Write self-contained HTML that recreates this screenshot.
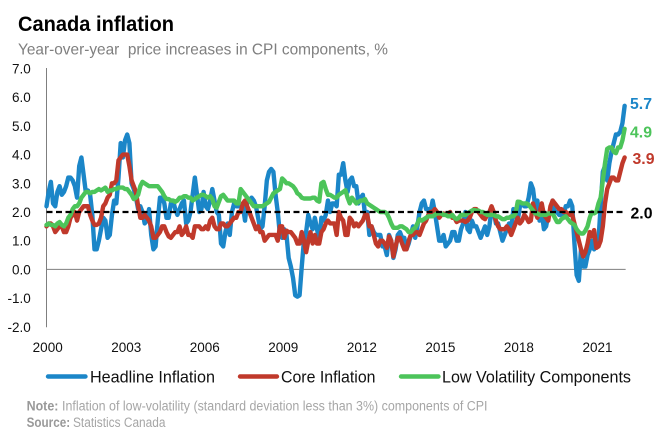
<!DOCTYPE html>
<html lang="en">
<head>
<meta charset="utf-8">
<title>Canada inflation</title>
<style>
  html,body{margin:0;padding:0;background:#fff;}
  body{width:662px;height:439px;overflow:hidden;}
  svg{display:block;font-family:"Liberation Sans",sans-serif;}
</style>
</head>
<body>
<svg id="chart" xmlns="http://www.w3.org/2000/svg" width="662" height="439" viewBox="0 0 662 439">
  <rect x="0" y="0" width="662" height="439" fill="#ffffff"/>
  <text x="18" y="31" font-size="21.5" font-weight="bold" fill="#000" textLength="156" lengthAdjust="spacingAndGlyphs">Canada  inflation</text>
  <text x="18" y="54.5" font-size="16" fill="#7f7f7f" textLength="370" lengthAdjust="spacingAndGlyphs" xml:space="preserve">Year-over-year  price increases in CPI components, %</text>
  <g id="plot"></g>
  <g>
    <line x1="48" y1="376.5" x2="85.5" y2="376.5" stroke="#1b86c8" stroke-width="4.4" stroke-linecap="round"/>
    <text x="90" y="382.5" font-size="16.5" fill="#111" textLength="125" lengthAdjust="spacingAndGlyphs">Headline Inflation</text>
    <line x1="240" y1="376.5" x2="277" y2="376.5" stroke="#c0392b" stroke-width="4.4" stroke-linecap="round"/>
    <text x="281" y="382.5" font-size="16.5" fill="#111" textLength="94.5" lengthAdjust="spacingAndGlyphs">Core Inflation</text>
    <line x1="401" y1="376.5" x2="438.5" y2="376.5" stroke="#4cc45a" stroke-width="4.4" stroke-linecap="round"/>
    <text x="442" y="382.5" font-size="16.5" fill="#111" textLength="189" lengthAdjust="spacingAndGlyphs">Low Volatility Components</text>
  </g>
  <g>
    <text x="26.6" y="410.5" font-size="13.5" font-weight="bold" fill="#999" textLength="31.8" lengthAdjust="spacingAndGlyphs">Note:</text>
    <text x="62" y="410.5" font-size="13.5" fill="#a6a6a6" textLength="425.5" lengthAdjust="spacingAndGlyphs">Inflation of low-volatility (standard deviation less than 3%) components of CPI</text>
    <text x="26.6" y="427" font-size="13.5" font-weight="bold" fill="#999" textLength="43.5" lengthAdjust="spacingAndGlyphs">Source:</text>
    <text x="73" y="427" font-size="13.5" fill="#a6a6a6" textLength="92.5" lengthAdjust="spacingAndGlyphs">Statistics Canada</text>
  </g>
</svg>
<script>
// Monthly values, January 2000 to February 2022
const startYear = 2000;
const headline = [
  2.2,2.7,3.05,2.3,2.2,2.7,2.9,2.6,2.7,2.9,3.2,3.2,
  3.1,2.9,2.5,3.6,3.9,3.3,2.7,2.75,2.6,1.9,0.7,0.7,
  1.0,1.4,1.8,1.7,1.1,1.2,1.9,2.4,2.3,3.2,4.4,3.9,
  4.5,4.7,4.4,3.0,2.8,2.5,2.1,2.2,2.0,1.6,1.7,2.1,
  1.2,0.7,0.8,1.7,2.5,2.5,2.3,1.8,1.8,2.3,2.4,2.1,
  1.9,2.1,2.3,2.4,1.6,1.7,2.0,2.6,3.2,2.6,2.0,2.1,
  2.7,2.2,2.1,2.4,2.8,2.4,2.0,1.9,0.9,0.8,1.3,1.6,
  1.2,2.0,2.3,2.2,2.2,2.2,2.2,1.7,2.4,2.4,2.5,2.4,
  2.2,1.8,1.4,1.5,2.2,3.1,3.4,3.5,3.4,2.6,2.0,1.2,
  1.1,1.4,1.2,0.4,0.1,-0.3,-0.9,-0.95,-0.9,0.1,1.0,1.3,
  1.9,1.6,1.4,1.8,1.4,1.0,1.8,1.7,1.9,2.4,2.0,2.3,
  2.3,2.2,3.3,3.3,3.7,3.1,2.7,3.1,3.2,2.9,2.9,2.3,
  2.5,2.6,1.9,2.0,1.2,1.5,1.3,1.2,1.2,1.2,0.8,0.8,
  0.5,1.2,1.0,0.4,0.7,1.2,1.3,1.1,1.1,0.7,0.9,1.2,
  1.5,1.1,1.5,2.0,2.3,2.4,2.1,2.1,2.0,2.4,2.0,1.5,
  1.0,1.0,1.2,0.8,0.9,1.0,1.3,1.3,1.0,1.0,1.4,1.6,
  2.0,1.4,1.3,1.7,1.5,1.5,1.3,1.1,1.3,1.5,1.2,1.5,
  2.1,2.0,1.6,1.6,1.3,1.0,1.2,1.4,1.6,1.4,2.1,1.9,
  1.7,2.2,2.3,2.2,2.2,2.5,3.0,2.8,2.2,2.4,1.7,2.0,
  1.4,1.5,1.9,2.0,2.4,2.0,2.0,1.9,1.9,1.9,2.2,2.2,
  2.4,2.2,0.9,-0.2,-0.4,0.7,0.1,0.1,0.5,0.7,1.0,0.7,
  0.9,1.0,2.2,3.4,3.6,3.1,3.7,4.1,4.4,4.7,4.7,4.8,
  5.1,5.7
];
const core = [
  1.5,1.6,1.6,1.5,1.3,1.4,1.5,1.5,1.3,1.3,1.5,1.8,
  1.9,2.0,1.7,2.0,2.1,2.2,2.2,2.2,1.9,1.7,1.55,1.55,
  1.6,1.8,2.2,2.3,2.5,2.6,3.0,3.0,3.1,3.8,3.9,4.0,
  4.0,4.0,3.6,3.1,2.9,2.7,2.2,1.8,1.8,1.9,1.8,1.7,
  1.5,1.1,1.1,1.2,1.3,1.5,1.5,1.3,1.15,1.1,1.2,1.3,
  1.3,1.5,1.2,1.3,1.5,1.2,1.2,1.1,1.5,1.5,1.5,1.4,
  1.4,1.5,1.4,1.7,1.8,1.5,1.4,1.4,1.6,1.6,1.5,1.5,
  1.6,1.7,1.8,1.8,2.0,2.0,2.3,2.4,2.2,2.0,1.8,1.6,
  1.4,1.5,1.3,1.3,1.0,1.1,1.2,1.2,1.2,1.2,1.0,1.5,
  1.5,1.1,1.35,1.3,1.3,1.2,1.1,0.9,0.9,1.3,1.0,0.6,
  1.0,1.3,0.9,1.2,0.9,0.9,1.3,1.4,1.6,1.7,1.6,1.6,
  1.6,1.2,2.0,1.8,1.7,1.2,1.2,1.8,1.7,1.5,1.6,1.5,
  1.6,1.7,1.9,1.9,1.5,1.5,1.2,0.9,0.8,1.0,1.0,0.9,
  0.75,1.15,1.0,0.45,0.8,1.1,1.1,0.9,0.7,0.7,1.0,1.2,
  1.2,1.3,1.3,1.2,1.4,1.6,1.7,1.9,2.0,2.0,2.1,2.0,
  1.8,1.9,1.95,1.9,1.9,2.0,1.8,1.8,1.65,1.7,1.7,1.7,
  1.65,1.7,1.8,2.0,2.1,2.1,2.0,1.9,1.8,1.75,1.9,2.0,
  2.2,2.0,1.7,1.5,1.4,1.4,1.4,1.5,1.4,1.2,1.4,1.6,
  1.8,1.6,1.7,1.9,1.8,1.65,1.7,2.3,2.0,1.8,2.0,2.3,
  1.9,1.8,1.7,2.2,2.4,2.3,2.2,2.1,2.1,2.0,2.0,1.95,
  1.9,1.9,1.6,1.3,1.0,0.7,0.45,0.6,0.9,1.3,1.15,1.37,
  0.75,0.8,1.0,1.5,2.3,2.8,3.0,3.2,3.2,3.1,3.1,3.4,
  3.7,3.9
];
const lowVolatility = [
  1.55,1.6,1.55,1.55,1.5,1.6,1.65,1.55,1.5,1.6,1.8,1.9,
  2.1,2.2,2.2,2.3,2.5,2.6,2.7,2.7,2.65,2.7,2.7,2.75,
  2.8,2.75,2.8,2.85,2.7,2.75,2.75,2.8,2.8,2.85,2.85,2.85,
  2.8,2.8,2.7,2.6,2.45,2.5,2.6,2.9,3.05,3.0,2.95,2.9,
  2.9,2.9,2.9,2.9,2.8,2.7,2.55,2.45,2.45,2.4,2.4,2.35,
  2.4,2.5,2.5,2.55,2.55,2.5,2.5,2.4,2.45,2.5,2.55,2.6,
  2.6,2.55,2.5,2.55,2.45,2.2,2.15,2.35,2.55,2.6,2.5,2.4,
  2.4,2.4,2.4,2.3,2.3,2.8,2.7,2.6,2.5,2.4,2.3,2.2,
  2.2,2.2,2.2,2.2,2.25,2.3,2.35,2.5,2.65,2.7,2.75,2.8,
  3.17,3.1,3.0,3.0,2.95,2.9,2.8,2.65,2.6,2.5,2.47,2.47,
  2.47,2.47,2.5,2.5,2.4,2.36,3.0,3.05,2.8,2.6,2.6,2.55,
  2.5,2.5,2.6,2.65,2.7,2.76,2.5,2.3,2.5,2.4,2.3,2.35,
  2.4,2.4,2.45,2.3,2.25,2.2,2.15,2.1,2.05,2.0,2.0,2.0,
  1.95,1.8,1.6,1.45,1.45,1.45,1.5,1.5,1.45,1.4,1.3,1.3,
  1.4,1.45,1.6,1.75,1.7,1.75,1.8,1.85,1.85,1.85,1.9,1.95,
  1.95,1.95,1.9,1.9,1.85,1.85,1.9,1.8,1.75,1.8,1.9,1.9,
  1.9,1.95,2.0,2.05,2.07,2.05,2.05,2.0,2.0,1.95,1.9,1.9,
  1.9,1.9,1.85,1.85,1.8,1.75,1.75,1.8,1.8,1.85,1.85,1.95,
  2.36,2.35,2.3,2.3,2.3,2.25,2.15,2.05,1.95,1.95,1.9,1.9,
  1.9,1.9,1.95,1.95,1.95,1.8,1.65,1.65,1.75,1.8,1.85,1.75,
  1.65,1.6,1.55,1.4,1.3,1.25,1.25,1.35,1.5,1.8,2.0,1.95,
  2.0,2.3,2.5,3.1,3.7,4.2,4.25,4.25,4.1,4.05,4.25,4.25,
  4.5,4.9
];
const yTicks = [7, 6, 5, 4, 3, 2, 1, 0, -1, -2];
const xTickYears = [2000, 2003, 2006, 2009, 2012, 2015, 2018, 2021];
const targetRate = 2.0;

const SVG_NS = 'http://www.w3.org/2000/svg';
const plot = document.getElementById('plot');

const xLeft = 46.5, monthWidth = 26.18 / 12;
const yZero = 269.4, unitHeight = 28.7;
function xScale(monthIndex) { return xLeft + monthIndex * monthWidth; }
function yScale(value) { return yZero - value * unitHeight; }
const lastMonth = headline.length - 1;
const xRight = xScale(lastMonth) + 1;

function make(tag) {
  const el = document.createElementNS(SVG_NS, tag);
  plot.appendChild(el);
  return el;
}

// y axis line
const yAxis = make('line');


yAxis.setAttribute('x1', xLeft);
yAxis.setAttribute('x2', xLeft);
yAxis.setAttribute('y1', yScale(yTicks[0]) - 0.5);
yAxis.setAttribute('y2', yScale(yTicks[yTicks.length - 1]) + 0.5);
yAxis.setAttribute('stroke', '#7f7f7f');
yAxis.setAttribute('stroke-width', '1');

// zero line
const xAxis = make('line');


xAxis.setAttribute('x1', xLeft);
xAxis.setAttribute('x2', xRight);
xAxis.setAttribute('y1', yScale(0));
xAxis.setAttribute('y2', yScale(0));
xAxis.setAttribute('stroke', '#7f7f7f');
xAxis.setAttribute('stroke-width', '1');

// y tick labels
yTicks.forEach(function (tick) {
  const t = make('text');
  
  
  t.setAttribute('x', 30.8);
  t.setAttribute('y', yScale(tick) + 5);
  t.setAttribute('text-anchor', 'end');
  t.setAttribute('font-size', '13.5');
  t.setAttribute('fill', '#111');
  t.textContent = tick.toFixed(1);
});

// x tick labels
xTickYears.forEach(function (year) {
  const t = make('text');
  
  
  t.setAttribute('x', xScale((year - startYear) * 12) + 1.2);
  t.setAttribute('y', 352);
  t.setAttribute('text-anchor', 'middle');
  t.setAttribute('font-size', '13.5');
  t.setAttribute('fill', '#111');
  t.textContent = String(year);
});

function seriesPoints(values) {
  return values.map(function (v, i) {
    return xScale(i).toFixed(2) + ',' + yScale(v).toFixed(2);
  }).join(' ');
}

const headlineLine = make('polyline');


headlineLine.setAttribute('points', seriesPoints(headline));
headlineLine.setAttribute('fill', 'none');
headlineLine.setAttribute('stroke', '#1b86c8');
headlineLine.setAttribute('stroke-width', '4.4');
headlineLine.setAttribute('stroke-linejoin', 'round');
headlineLine.setAttribute('stroke-linecap', 'round');

const coreLine = make('polyline');


coreLine.setAttribute('points', seriesPoints(core));
coreLine.setAttribute('fill', 'none');
coreLine.setAttribute('stroke', '#c0392b');
coreLine.setAttribute('stroke-width', '4.4');
coreLine.setAttribute('stroke-linejoin', 'round');
coreLine.setAttribute('stroke-linecap', 'round');

const lowVolLine = make('polyline');


lowVolLine.setAttribute('points', seriesPoints(lowVolatility));
lowVolLine.setAttribute('fill', 'none');
lowVolLine.setAttribute('stroke', '#4cc45a');
lowVolLine.setAttribute('stroke-width', '4.4');
lowVolLine.setAttribute('stroke-linejoin', 'round');
lowVolLine.setAttribute('stroke-linecap', 'round');

// 2% target line
const target = make('line');


target.setAttribute('x1', xLeft);
target.setAttribute('x2', xRight);
target.setAttribute('y1', yScale(targetRate));
target.setAttribute('y2', yScale(targetRate));
target.setAttribute('stroke', '#000');
target.setAttribute('stroke-width', '2.2');
target.setAttribute('stroke-dasharray', '6 3.5');

// end-of-line value labels
function valueLabel(el, x, y, color, value) {
  el.setAttribute('x', x);
  el.setAttribute('y', y);
  el.setAttribute('font-size', '16');
  el.setAttribute('font-weight', 'bold');
  el.setAttribute('fill', color);
  el.setAttribute('textLength', '22');
  el.setAttribute('lengthAdjust', 'spacingAndGlyphs');
  el.textContent = value.toFixed(1);
}

const headlineValue = make('text');


valueLabel(headlineValue, 630, yScale(headline[lastMonth]) + 3, '#1b86c8', headline[lastMonth]);

const lowVolValue = make('text');


valueLabel(lowVolValue, 630, yScale(lowVolatility[lastMonth]) + 8.5, '#4cc45a', lowVolatility[lastMonth]);

const coreValue = make('text');


valueLabel(coreValue, 632.5, yScale(core[lastMonth]) + 6.5, '#c0392b', core[lastMonth]);

const targetValue = make('text');


valueLabel(targetValue, 630.5, yScale(targetRate) + 6.5, '#000', targetRate);
</script>
</body>
</html>
